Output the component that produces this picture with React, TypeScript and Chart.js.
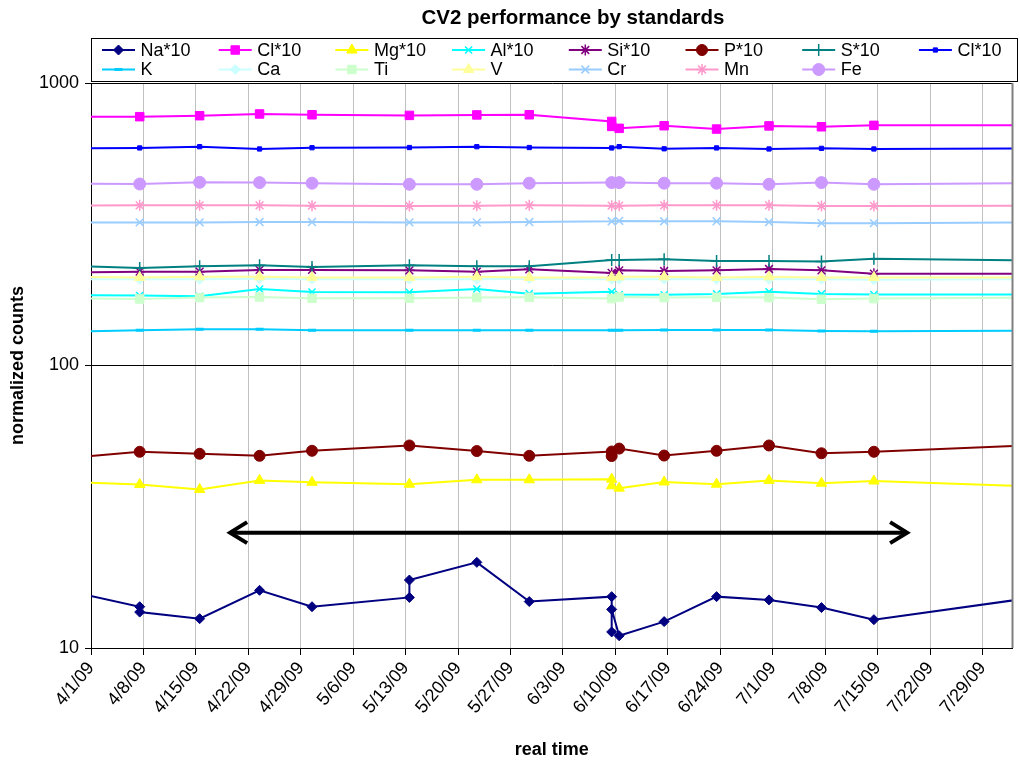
import React, { useEffect, useRef } from 'react';
import { Chart, registerables } from 'chart.js';
import { drawPoint } from 'chart.js/helpers';

Chart.register(...registerables);

const FONT = "'Liberation Sans', Arial, Helvetica, sans-serif";

// ---- data (x = days after 4/1/09) ----
const stdDays = [-1.5, 6.5, 14.5, 22.5, 29.5, 42.5, 51.5, 58.5, 69.5, 70.5, 76.5, 83.5, 90.5, 97.5, 104.5, 125.5];
const dupDays = [-1.5, 6.5, 14.5, 22.5, 29.5, 42.5, 51.5, 58.5, 69.5, 69.5, 70.5, 76.5, 83.5, 90.5, 97.5, 104.5, 125.5];
const naDays = [-1.5, 6.5, 6.5, 14.5, 22.5, 29.5, 42.5, 42.5, 51.5, 58.5, 69.5, 69.5, 69.5, 70.5, 76.5, 83.5, 90.5, 97.5, 104.5, 125.5];

const naValues = [15.6, 14.0, 13.4, 12.7, 16.0, 14.0, 15.1, 17.4, 20.1, 14.6, 15.2, 11.4, 13.7, 11.05, 12.4, 15.2, 14.8, 13.9, 12.6, 15.05];
const cl10Values = [759, 760, 766, 777, 772, 768, 771, 772, 731, 702, 691, 706, 687, 705, 700, 708, 708];
const mgValues = [38.6, 37.9, 36.4, 39.2, 38.6, 38.0, 39.4, 39.4, 39.6, 37.5, 36.8, 38.7, 38.0, 39.2, 38.3, 39.0, 37.3];
const alValues = [177.2, 177, 175.8, 186.6, 182.1, 181.7, 186.6, 179.6, 182.5, 178.3, 178, 179.2, 182.5, 179.2, 178.3, 178.3];
const siValues = [213.8, 214.9, 214.9, 217.9, 217.9, 217.2, 214.9, 219, 212.7, 217.2, 216, 217.2, 219.6, 217.2, 211.4, 211.4];
const pValues = [47.5, 49.5, 48.7, 47.9, 49.9, 52.1, 49.8, 47.9, 49.6, 47.8, 50.8, 48.0, 49.9, 52.1, 48.9, 49.5, 52.2];
const sValues = [225, 221.4, 224.4, 226.3, 223.3, 226.3, 224.4, 224.4, 236.4, 236.4, 237.7, 234.5, 234.5, 233.3, 238.9, 235.6];
const cl10bValues = [587, 589, 595, 584, 590, 591, 595, 591, 589, 595, 585, 589, 584, 587, 584, 587];
const kValues = [132.1, 133.2, 134.3, 134.3, 133.2, 133.2, 133.2, 133.2, 133.2, 133.2, 133.5, 133.5, 133.5, 132.5, 132.1, 132.7];
const caValues = [202, 202, 202, 203, 202, 202, 202, 203, 202, 202, 202, 202, 202, 202, 201, 202];
const tiValues = [172.9, 172.0, 173.9, 174.8, 172.9, 172.9, 173.9, 174.3, 172.5, 174.8, 173.9, 174.3, 173.9, 171.6, 172.5, 173.9];
const vValues = [206, 205, 206, 206, 205, 205, 206, 205, 205, 206, 206, 205, 206, 205, 205, 205];
const crValues = [321, 321, 321, 322, 322, 321, 321, 322, 324, 325, 324, 324, 322, 319, 319, 321];
const mnValues = [368, 369, 369, 369, 368, 367, 368, 369, 368, 368, 369, 369, 369, 367, 367, 368];
const feValues = [440, 439, 445, 444, 442, 438, 438, 442, 444, 444, 442, 442, 438, 444, 438, 442];

const seriesNames = ['Na*10', 'Cl*10', 'Mg*10', 'Al*10', 'Si*10', 'P*10', 'S*10', 'Cl*10', 'K', 'Ca', 'Ti', 'V', 'Cr', 'Mn', 'Fe'];
const seriesDays = [naDays, dupDays, dupDays, stdDays, stdDays, dupDays, stdDays, stdDays, stdDays, stdDays, stdDays, stdDays, stdDays, stdDays, stdDays];
const seriesValues = [naValues, cl10Values, mgValues, alValues, siValues, pValues, sValues, cl10bValues, kValues, caValues, tiValues, vValues, crValues, mnValues, feValues];

const tickLabels = ['4/1/09', '4/8/09', '4/15/09', '4/22/09', '4/29/09', '5/6/09', '5/13/09', '5/20/09', '5/27/09', '6/3/09', '6/10/09', '6/17/09', '6/24/09', '7/1/09', '7/8/09', '7/15/09', '7/22/09', '7/29/09'];
const tickStepDays = 7;
const axisEndDay = 123;
const yTickValues = [10, 100, 1000];
const arrowFromDay = 18.3;
const arrowToDay = 109.2;
const arrowLevel = 25.6;

// ---- styles ----
const seriesColors = ['#000080', '#FF00FF', '#FFFF00', '#00FFFF', '#800080', '#800000', '#008080', '#0000FF', '#00CCFF', '#CCFFFF', '#CCFFCC', '#FFFF99', '#99CCFF', '#FF99CC', '#CC99FF'];
const seriesMarkers = ['rectRot', 'rect', 'triangle', 'crossRot', 'star', 'circle', 'cross', 'rect', 'line', 'rectRot', 'rect', 'triangle', 'crossRot', 'star', 'circle'];
const markerRadius = [5, 6, 6, 5, 5.5, 5.5, 6, 3, 4, 5, 6, 6, 5.5, 5.5, 6];
const markerBorder = [1, 1, 1, 1.5, 1.5, 1, 1.5, 1, 3, 1, 1, 1, 1.5, 1.5, 1];

const decorPlugin = {
  id: 'decor',
  afterDatasetsDraw(chart: any) {
    const { ctx, chartArea, scales } = chart;
    ctx.save();
    // right border of plot area
    ctx.strokeStyle = '#808080';
    ctx.lineWidth = 2;
    ctx.beginPath();
    ctx.moveTo(chartArea.right, chartArea.top);
    ctx.lineTo(chartArea.right, chartArea.bottom);
    ctx.stroke();
    // double arrow
    const x1 = scales.x.getPixelForValue(arrowFromDay);
    const x2 = scales.x.getPixelForValue(arrowToDay);
    const y = scales.y.getPixelForValue(arrowLevel);
    ctx.strokeStyle = '#000';
    ctx.lineWidth = 4;
    ctx.lineJoin = 'miter';
    ctx.beginPath();
    ctx.moveTo(x1 + 2, y);
    ctx.lineTo(x2 - 2, y);
    ctx.stroke();
    ctx.beginPath();
    ctx.moveTo(x1 + 19, y - 10.5);
    ctx.lineTo(x1 + 2, y);
    ctx.lineTo(x1 + 19, y + 10.5);
    ctx.stroke();
    ctx.beginPath();
    ctx.moveTo(x2 - 19, y - 10.5);
    ctx.lineTo(x2 - 2, y);
    ctx.lineTo(x2 - 19, y + 10.5);
    ctx.stroke();
    ctx.restore();
  },
  afterDraw(chart: any) {
    const { ctx } = chart;
    ctx.save();
    // title
    ctx.fillStyle = '#000';
    ctx.font = `bold 20.5px ${FONT}`;
    ctx.textAlign = 'center';
    ctx.textBaseline = 'middle';
    ctx.fillText('CV2 performance by standards', 573, 18);
    // legend box
    ctx.fillStyle = '#fff';
    ctx.fillRect(91, 38, 927, 43);
    ctx.strokeStyle = '#000';
    ctx.lineWidth = 1;
    ctx.strokeRect(91.5, 38.5, 926, 43);
    ctx.font = `18px ${FONT}`;
    ctx.textAlign = 'left';
    chart.data.datasets.forEach((ds: any, i: number) => {
      const col = i % 8;
      const row = Math.floor(i / 8);
      const x0 = 102 + col * 116.7;
      const yy = 50 + row * 19.5;
      ctx.strokeStyle = ds.borderColor;
      ctx.lineWidth = 2;
      ctx.beginPath();
      ctx.moveTo(x0, yy);
      ctx.lineTo(x0 + 33, yy);
      ctx.stroke();
      ctx.fillStyle = ds.pointBackgroundColor;
      ctx.strokeStyle = ds.pointBorderColor;
      ctx.lineWidth = ds.pointBorderWidth;
      drawPoint(ctx, { pointStyle: ds.pointStyle, radius: ds.pointRadius, rotation: 0, borderWidth: ds.pointBorderWidth }, x0 + 16.5, yy);
      ctx.fillStyle = '#000';
      ctx.fillText(ds.label, x0 + 38.5, yy + 1);
    });
    ctx.restore();
  },
};

export default function App() {
  const ref = useRef<HTMLCanvasElement | null>(null);
  useEffect(() => {
    if (!ref.current) return;
    const datasets = seriesNames.map((name, i) => ({
      label: name,
      data: seriesDays[i].map((d, j) => ({ x: d, y: seriesValues[i][j] })),
      borderColor: seriesColors[i],
      backgroundColor: seriesColors[i],
      pointBackgroundColor: seriesColors[i],
      pointBorderColor: seriesColors[i],
      pointStyle: seriesMarkers[i],
      pointRadius: markerRadius[i],
      pointBorderWidth: markerBorder[i],
      borderWidth: 2,
      tension: 0,
      fill: false,
      order: seriesNames.length - i,
    }));
    const chart = new Chart(ref.current, {
      type: 'line',
      data: { datasets } as any,
      options: {
        animation: false,
        responsive: false,
        devicePixelRatio: 1,
        layout: { padding: { left: 0, top: 83, right: 4, bottom: 0 } },
        plugins: { legend: { display: false }, title: { display: false }, tooltip: { enabled: false } },
        scales: {
          x: {
            type: 'linear',
            min: 0,
            max: axisEndDay,
            afterBuildTicks: (scale: any) => {
              scale.ticks = tickLabels.map((_, i) => ({ value: i * tickStepDays }));
            },
            afterFit: (scale: any) => {
              scale.height = 113;
            },
            ticks: {
              autoSkip: false,
              maxRotation: 50,
              minRotation: 50,
              padding: 3,
              color: '#000',
              font: { family: FONT, size: 18 },
              callback: (_v: any, index: number) => tickLabels[index],
            },
            grid: { color: '#C0C0C0', lineWidth: 1, tickLength: 7, tickColor: '#000' },
            border: { color: '#000', width: 1 },
            title: {
              display: true,
              text: 'real time',
              color: '#000',
              font: { family: FONT, size: 18, weight: 'bold' },
              padding: { top: 0, bottom: 0 },
            },
          },
          y: {
            type: 'logarithmic',
            min: 10,
            max: 1000,
            afterBuildTicks: (scale: any) => {
              scale.ticks = yTickValues.map((v) => ({ value: v, major: true }));
            },
            afterFit: (scale: any) => {
              scale.width = 91;
            },
            ticks: {
              autoSkip: false,
              padding: 6,
              color: '#000',
              font: { family: FONT, size: 18 },
              callback: (v: any) => String(v),
            },
            grid: { color: '#000', lineWidth: 1, tickLength: 6, tickColor: '#000' },
            border: { color: '#000', width: 1 },
            title: {
              display: true,
              text: 'normalized counts',
              color: '#000',
              font: { family: FONT, size: 18, weight: 'bold' },
              padding: { top: 7, bottom: 0 },
            },
          },
        },
      } as any,
      plugins: [decorPlugin],
    });
    return () => chart.destroy();
  }, []);
  return (
    <div style={{ position: 'fixed', left: 0, top: 0, width: 1020, height: 761, background: '#fff' }}>
      <canvas ref={ref} width={1020} height={761} style={{ display: 'block', width: 1020, height: 761 }} />
    </div>
  );
}
